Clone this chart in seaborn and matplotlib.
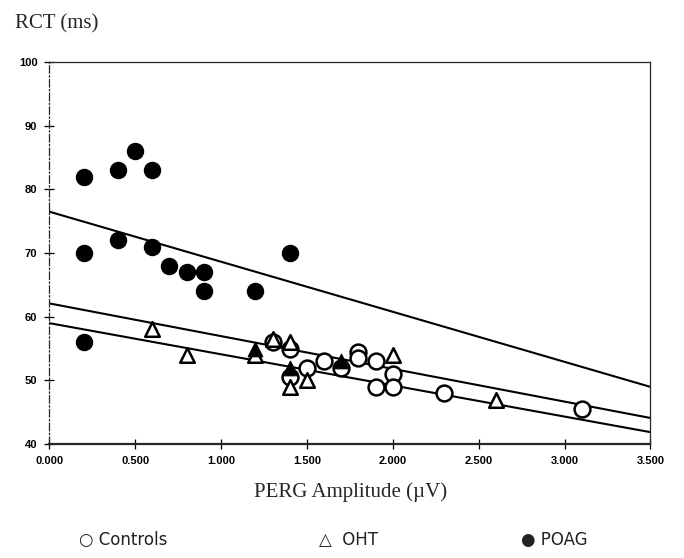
import numpy as np
import pandas as pd
import matplotlib
matplotlib.use("Agg")
import matplotlib.pyplot as plt
import seaborn as sns

# values (PERG amplitude in uV, RCT in ms)
controls_x = [1.3, 1.4, 1.5, 1.6, 1.7, 1.8, 1.8, 1.9, 2.0, 1.9, 2.0, 2.3, 3.1, 1.4]
controls_y = [56, 55, 52, 53, 52, 54.5, 53.5, 53, 51, 49, 49, 48, 45.5, 50.5]

oht_x = [0.6, 0.8, 1.2, 1.3, 1.4, 1.4, 1.5, 2.0, 2.6]
oht_y = [58, 54, 54, 56.5, 56, 49, 50, 54, 47]

# OHT points that print as solid blobs where they overlap
oht_solid_x = [1.2, 1.4, 1.7]
oht_solid_y = [55, 52, 53]

poag_x = [0.2, 0.4, 0.5, 0.6, 0.2, 0.4, 0.6, 0.7, 0.8, 0.9, 1.4, 0.9, 1.2, 0.2]
poag_y = [82, 83, 86, 83, 70, 72, 71, 68, 67, 67, 70, 64, 64, 56]

# regression lines (intercept at 0 uV, slope per uV)
fit_names = ["POAG", "OHT", "Controls"]
fit_intercept = [76.5, 62.1, 59.0]
fit_slope = [-7.86, -5.14, -4.89]

x_ticks = [0.0, 0.5, 1.0, 1.5, 2.0, 2.5, 3.0, 3.5]
x_ticklabels = ["0.000", "0.500", "1.000", "1.500", "2.000", "2.500", "3.000", "3.500"]
y_ticks = [40, 50, 60, 70, 80, 90, 100]

sns.set_style("ticks")
fig = plt.figure(figsize=(6.84, 5.58), dpi=100)
ax = fig.add_axes([0.072, 0.204, 0.879, 0.685])

# fit lines
xs = np.array([0.0, 3.5])
for name, b0, b1 in zip(fit_names, fit_intercept, fit_slope):
    line_df = pd.DataFrame({"x": xs, "y": b0 + b1 * xs})
    sns.lineplot(data=line_df, x="x", y="y", color="black", lw=1.5, ax=ax, zorder=2)

sns.scatterplot(x=poag_x, y=poag_y, marker="o", s=135, color="black",
                edgecolor="black", ax=ax, zorder=3)
sns.scatterplot(x=controls_x, y=controls_y, marker="o", s=130, facecolor="white",
                edgecolor="black", linewidth=1.8, ax=ax, zorder=3)
sns.scatterplot(x=oht_x, y=oht_y, marker="^", s=110, facecolor="white",
                edgecolor="black", linewidth=1.8, ax=ax, zorder=4)
sns.scatterplot(x=oht_solid_x, y=oht_solid_y, marker="^", s=110, color="black",
                edgecolor="black", ax=ax, zorder=4)

ax.set_xlim(0, 3.5)
ax.set_ylim(40, 100)
ax.set_xticks(x_ticks)
ax.set_xticklabels(x_ticklabels)
ax.set_yticks(y_ticks)
ax.tick_params(direction="inout", length=7, width=0.9, colors="black", pad=5)
for lab in ax.get_xticklabels() + ax.get_yticklabels():
    lab.set_fontfamily("Liberation Sans")
    lab.set_fontweight("bold")
    lab.set_fontsize(8)
ax.set_xlabel("")
ax.set_ylabel("")

for side in ["top", "right", "left"]:
    ax.spines[side].set_visible(True)
    ax.spines[side].set_linewidth(0.9)
ax.spines["left"].set_linestyle((0, (6, 2, 1, 2)))
ax.spines["bottom"].set_linewidth(1.6)

fig.text(0.022, 0.958, "RCT (ms)", family="Liberation Serif", fontsize=15,
         va="center", ha="left")
fig.text(0.512, 0.118, "PERG Amplitude (\u00b5V)", family="Liberation Serif",
         fontsize=15, va="center", ha="center")

fig.text(0.115, 0.032, "\u25cb Controls", family="DejaVu Sans", fontsize=12,
         va="center", ha="left", color="#222222")
fig.text(0.467, 0.032, "\u25b3  OHT", family="DejaVu Sans", fontsize=12,
         va="center", ha="left", color="#222222")
fig.text(0.762, 0.032, "\u25cf POAG", family="DejaVu Sans", fontsize=12,
         va="center", ha="left", color="#222222")

fig.savefig("out.png", dpi=100)
